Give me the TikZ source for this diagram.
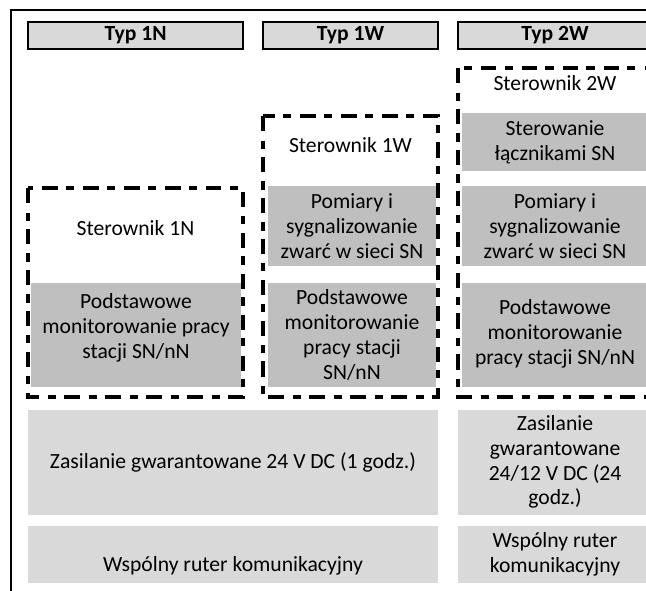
\documentclass[tikz,border=0pt]{standalone}
\usepackage{fontspec}
\setmainfont{Carlito}
\usepackage{xcolor}
\usepackage{tikz}
\usetikzlibrary{positioning}
\definecolor{hdrgray}{HTML}{D9D9D9}
\definecolor{boxgray}{HTML}{BFBFBF}
\tikzset{
    txt/.style={align=center, inner sep=0pt, font=\fontsize{11.9}{13.6}\selectfont},
    hdrtxt/.style={inner sep=0pt, font=\fontsize{11.9}{13.6}\selectfont\bfseries},
    hdr/.style={draw=black, line width=1.1pt, fill=hdrgray},
    ctrl/.style={line width=1.7pt, dash pattern=on 8.5pt off 5pt on 4.5pt off 4.5pt}
}

\begin{document}
\begin{tikzpicture}[x=0.55pt, y=-0.55pt]
    \useasboundingbox (0,0) rectangle (646,590);
    \clip (0,0) rectangle (646,590);
    \draw[line width=1.1pt] (11,620) -- (11,10) -- (680,10);

    % naglowki
    \draw[hdr] (28,22) rectangle (243,49);
    \draw[hdr] (263,22) rectangle (438,49);
    \draw[hdr] (458,22) rectangle (680,49);
    \node[hdrtxt] (typ1n) at (135.5,35.5) {Typ 1N};
    \node[hdrtxt] (typ1w) at (350.5,35.5) {Typ 1W};
    \node[hdrtxt] (typ2w) at (555,35.5) {Typ 2W};

    % funkcje sterownikow
    \fill[boxgray] (31,283) rectangle (241,387);
    \fill[boxgray] (268,186) rectangle (436,266);
    \fill[boxgray] (268,283) rectangle (436,387);
    \fill[boxgray] (462,113) rectangle (680,171);
    \fill[boxgray] (462,186) rectangle (680,266);
    \fill[boxgray] (462,283) rectangle (680,387);

    % wspolne
    \fill[hdrgray] (28,410) rectangle (438,515);
    \fill[hdrgray] (458,410) rectangle (680,515);
    \fill[hdrgray] (28,526) rectangle (438,583);
    \fill[hdrgray] (458,526) rectangle (680,583);

    % sterowniki
    \draw[ctrl] (28,188) rectangle (243,397);
    \draw[ctrl] (263,116) rectangle (438,397);
    \draw[ctrl] (458,68) rectangle (680,397);

    \node[txt] (ster1n) at (135.5,228) {Sterownik 1N};
    \node[txt] (ster1w) at (350.5,145) {Sterownik 1W};
    \node[txt] (ster2w) at (555,83) {Sterownik 2W};
    \node[txt] (lacz2w) at (555,142) {Sterowanie\\łącznikami SN};
    \node[txt] (pom1w) at (352,226) {Pomiary i\\sygnalizowanie\\zwarć w sieci SN};
    \node[txt] (pom2w) at (555,226) {Pomiary i\\sygnalizowanie\\zwarć w sieci SN};
    \node[txt] (mon1n) at (136,328) {Podstawowe\\monitorowanie pracy\\stacji SN/nN};
    \node[txt] (mon1w) at (352,335) {Podstawowe\\monitorowanie\\pracy stacji\\SN/nN};
    \node[txt] (mon2w) at (555,334) {Podstawowe\\monitorowanie\\pracy stacji SN/nN};
    \node[txt] (zas1) at (233,462) {Zasilanie gwarantowane 24 V DC (1 godz.)};
    \node[txt] (zas2) at (555,462) {Zasilanie\\gwarantowane\\24/12 V DC (24\\godz.)};
    \node[txt] (rut1) at (233,566) {Wspólny ruter komunikacyjny};
    \node[txt] (rut2) at (555,554) {Wspólny ruter\\komunikacyjny};
\end{tikzpicture}
\end{document}
